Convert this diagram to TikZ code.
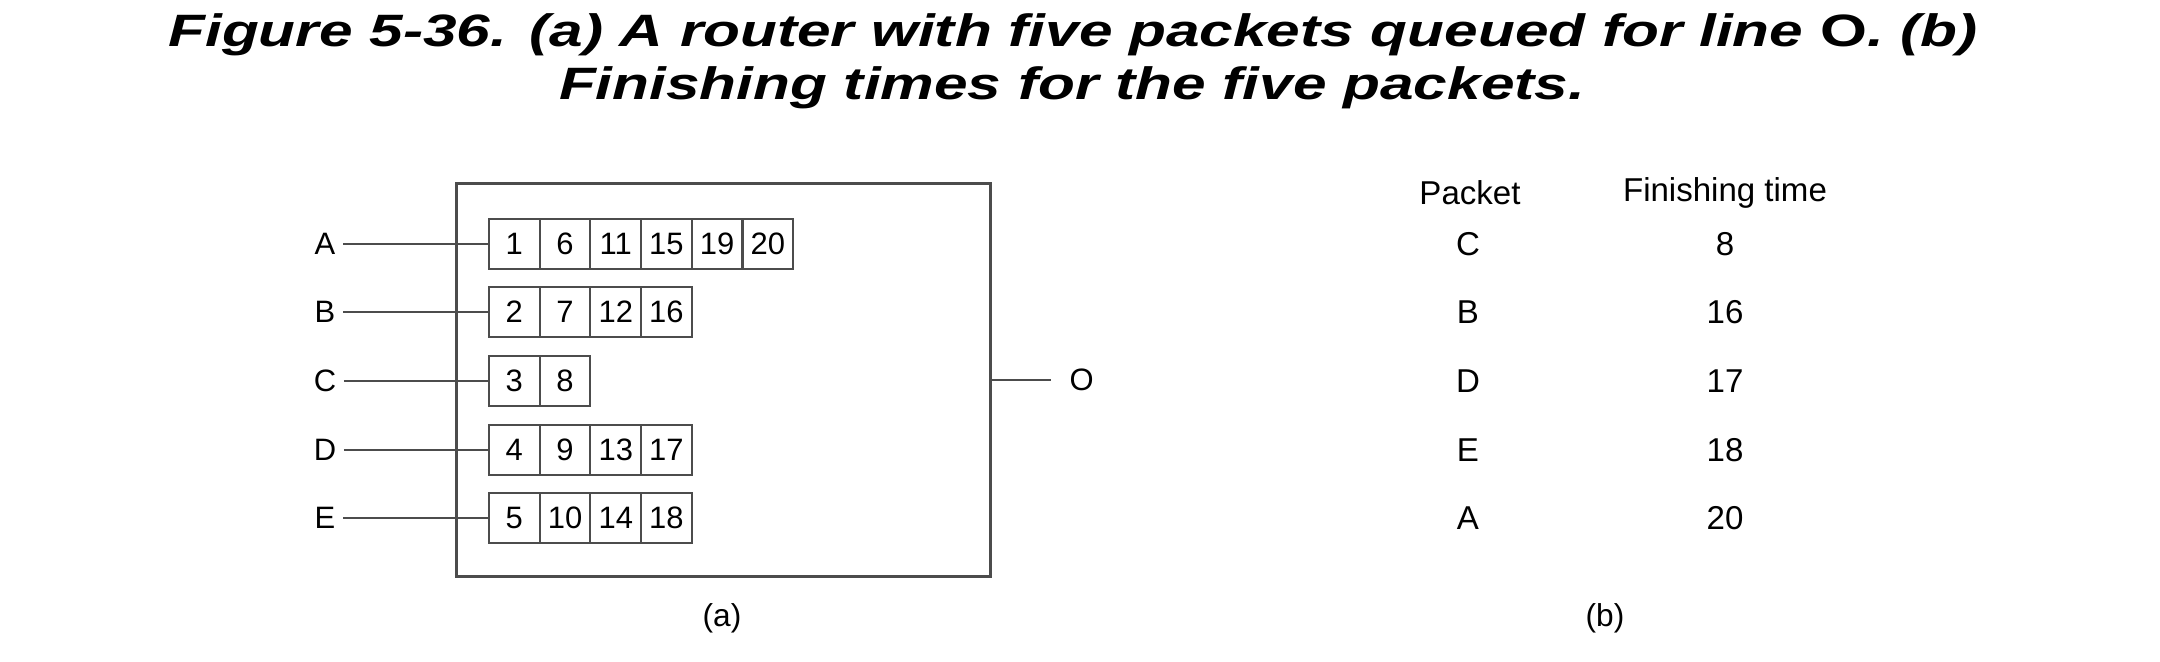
\documentclass[tikz,border=0pt]{standalone}
\usepackage{fontspec}
\setmainfont{Liberation Sans}
\newfontfamily\titlefont[FakeStretch=1.33]{Liberation Sans}
\usetikzlibrary{positioning}

\begin{document}
\begin{tikzpicture}[x=0.01cm,y=-0.01cm,
  cell/.style={draw=black!70, line width=0.6pt, minimum width=0.507cm, minimum height=0.5cm, inner sep=0pt, font=\fontsize{8.8}{10}\selectfont},
  wire/.style={draw=black!70, line width=0.6pt},
  lbl/.style={inner sep=0.07cm, font=\fontsize{8.8}{10}\selectfont},
  tab/.style={inner sep=0pt, font=\fontsize{9.4}{11}\selectfont},
  headline/.style={anchor=base, font=\titlefont\bfseries\itshape\fontsize{12.9}{15}\selectfont}]
\useasboundingbox (0,0) rectangle (2160,662);

% Titel
\node[headline] (title1) at (1073,47) {Figure 5-36. (a) A router with five packets queued for line {\upshape O}. (b)};
\node[headline] (title2) at (1072,100) {Finishing times for the five packets.};

% Router
\node[draw=black!70, line width=0.85pt, minimum width=5.33cm, minimum height=3.92cm, inner sep=0pt] (router) at (723.5,380) {};

% Warteschlangen
\foreach \name/\y/\list in {A/244/{1,6,11,15,19,20}, B/312/{2,7,12,16}, C/381/{3,8}, D/450/{4,9,13,17}, E/518/{5,10,14,18}} {
  \node[lbl] (in-\name) at (325,\y) {\name};
  \foreach [count=\i] \p in \list {
    \node[cell] (\name-\i) at ({514.35+50.7*(\i-1)},\y) {\p};
  }
  \draw[wire] (in-\name) -- (\name-1.west);
}

% Ausgang
\coordinate (out) at (1051,380);
\draw[wire] (router.east) -- (out);
\node[lbl, anchor=west] (O) at (1062,380) {O};

% Tabelle
\node[tab] (h-packet) at (1470,193) {Packet};
\node[tab] (h-time) at (1725,193) {Finishing time};
\foreach \name/\t/\y in {C/8/244, B/16/312, D/17/381, E/18/450, A/20/518} {
  \node[tab] (p-\name) at (1468,\y) {\name};
  \node[tab] (t-\name) at (1725,\y) {\t};
}

% Beschriftungen
\node[tab, font=\fontsize{9}{11}\selectfont] (cap-a) at (722,618) {(a)};
\node[tab, font=\fontsize{9}{11}\selectfont] (cap-b) at (1605,618) {(b)};

\end{tikzpicture}
\end{document}
